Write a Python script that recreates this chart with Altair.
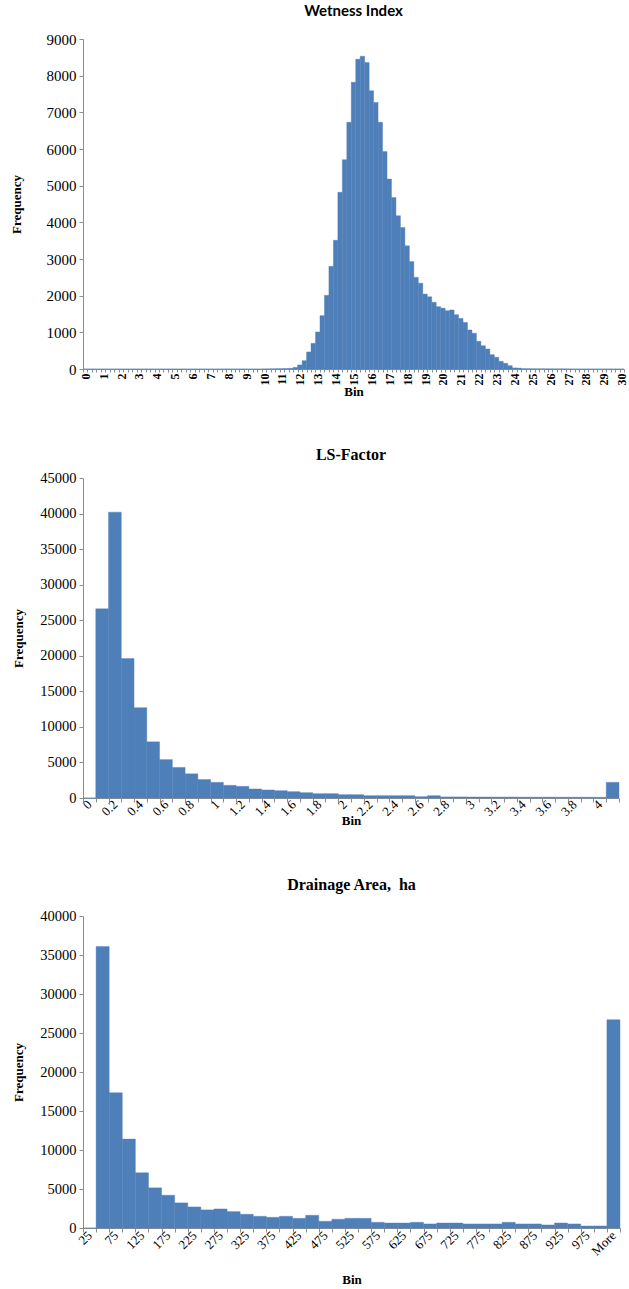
import altair as alt
import pandas as pd

BAR = "#4F7FB9"
SERIF = "Liberation Serif"

# ---------------- Wetness Index ----------------
wet_bins = [f"{i / 4:g}" for i in range(121)]  # 0, 0.25, ... 30
wet_freq = [
    0, 0, 0, 0, 0, 0, 0, 0, 0, 0,
    0, 0, 0, 0, 0, 0, 0, 0, 0, 0,
    0, 0, 0, 0, 0, 0, 0, 0, 0, 0,
    0, 0, 0, 0, 0, 0, 0, 0, 0, 0,
    2, 3, 5, 8, 10, 12, 18, 45,
    110, 227, 465, 700,
    1010, 1455, 2010, 2800,
    3510, 4820, 5710, 6730,
    7820, 8450, 8530, 8360,
    7590, 7270, 6730, 5930,
    5180, 4680, 4180, 3860,
    3360, 2930, 2500, 2340,
    2045, 1970, 1820, 1700,
    1660, 1590, 1610, 1480,
    1380, 1270, 1065, 975,
    755, 635, 545, 390,
    320, 210, 155, 90,
    30, 25, 10, 8,
    6, 5, 5, 4,
    4, 3, 3, 3,
    2, 0, 0, 0, 0, 0, 0, 0, 0, 0, 0, 0, 0,
]
wet_labels = [str(i) for i in range(31)]
wet_yticks = [0, 1000, 2000, 3000, 4000, 5000, 6000, 7000, 8000, 9000]

# ---------------- LS-Factor ----------------
ls_bins = ["0", "0.1", "0.2", "0.3", "0.4", "0.5", "0.6", "0.7", "0.8", "0.9",
           "1", "1.1", "1.2", "1.3", "1.4", "1.5", "1.6", "1.7", "1.8", "1.9",
           "2", "2.1", "2.2", "2.3", "2.4", "2.5", "2.6", "2.7", "2.8", "2.9",
           "3", "3.1", "3.2", "3.3", "3.4", "3.5", "3.6", "3.7", "3.8", "3.9",
           "4", "More"]
ls_freq = [0, 26600, 40200, 19600, 12700, 7900, 5400, 4300, 3400, 2600,
           2200, 1780, 1640, 1270, 1130, 1030, 890, 750, 610, 610,
           470, 470, 330, 330, 330, 330, 190, 330, 150, 150,
           140, 140, 130, 130, 120, 120, 120, 110, 110, 110,
           100, 2200]
ls_labels = ["0", "0.2", "0.4", "0.6", "0.8", "1", "1.2", "1.4", "1.6", "1.8",
             "2", "2.2", "2.4", "2.6", "2.8", "3", "3.2", "3.4", "3.6", "3.8", "4"]
ls_yticks = [0, 5000, 10000, 15000, 20000, 25000, 30000, 35000, 40000, 45000]

# ---------------- Drainage Area ----------------
da_bins = ["25", "50", "75", "100", "125", "150", "175", "200", "225", "250",
           "275", "300", "325", "350", "375", "400", "425", "450", "475", "500",
           "525", "550", "575", "600", "625", "650", "675", "700", "725", "750",
           "775", "800", "825", "850", "875", "900", "925", "950", "975", "1000",
           "More"]
da_freq = [0, 36100, 17350, 11400, 7080, 5150, 4200, 3220, 2700, 2320,
           2440, 2100, 1760, 1500, 1370, 1500, 1240, 1630, 860, 1120,
           1240, 1240, 730, 640, 640, 730, 520, 640, 640, 520,
           520, 520, 730, 520, 520, 390, 640, 520, 260, 260,
           26700]
da_labels = ["25", "75", "125", "175", "225", "275", "325", "375", "425", "475",
             "525", "575", "625", "675", "725", "775", "825", "875", "925", "975",
             "More"]
da_yticks = [0, 5000, 10000, 15000, 20000, 25000, 30000, 35000, 40000]


def label_expr(allowed):
    arr = "[" + ",".join("'" + s + "'" for s in allowed) + "]"
    return f"indexof({arr}, datum.value) >= 0 ? datum.value : ''"


def hist(bins, freq, labels, yticks, ymax, title, tfont, tsize, toffset,
         w, h, xangle, xbold, xsize, xtick, xlabpad, xtitlepad,
         ylabsize, ytitlepad):
    df = pd.DataFrame({"bin": bins, "freq": freq})
    if xangle == 270:
        xa = dict(labelAngle=270, labelAlign="right", labelBaseline="middle")
    else:
        xa = dict(labelAngle=315, labelAlign="right", labelBaseline="middle")
    return alt.Chart(df).mark_bar(color=BAR, stroke=BAR, strokeWidth=0.4).encode(
        x=alt.X("bin:O", sort=bins,
                scale=alt.Scale(paddingInner=0, paddingOuter=0),
                axis=alt.Axis(title="Bin", labelExpr=label_expr(labels),
                              tickBand="extent", labelOverlap=False,
                              labelFont=SERIF, labelFontSize=xsize,
                              labelFontWeight="bold" if xbold else "normal",
                              labelColor="black", labelPadding=xlabpad,
                              tickSize=xtick, tickColor="#8c8c8c",
                              domainColor="#8c8c8c",
                              titleFont=SERIF, titleFontSize=13,
                              titleFontWeight="bold", titleColor="black",
                              titlePadding=xtitlepad, **xa)),
        y=alt.Y("freq:Q", scale=alt.Scale(domain=[0, ymax], nice=False),
                axis=alt.Axis(title="Frequency", values=yticks, grid=False,
                              format="d",
                              labelFont=SERIF, labelFontSize=ylabsize,
                              labelColor="black", labelPadding=3,
                              tickSize=4, tickColor="#8c8c8c",
                              domainColor="#8c8c8c",
                              titleFont=SERIF, titleFontSize=13,
                              titleFontWeight="bold", titleColor="black",
                              titlePadding=ytitlepad)),
    ).properties(
        width=w, height=h,
        title=alt.TitleParams(title, font=tfont, fontSize=tsize,
                              fontWeight="bold", color="black",
                              offset=toffset, anchor="middle"),
    )


c1 = hist(wet_bins, wet_freq, wet_labels, wet_yticks, 9000, "Wetness Index",
          "Lato", 15, 13, 541, 330, 270, True, 12, 3, 1, 0, 15, 23)
c2 = hist(ls_bins, ls_freq, ls_labels, ls_yticks, 45000, "LS-Factor",
          SERIF, 16, 7, 536, 320, 315, False, 13, 4, 0, -4, 14.5, 14)
c3 = hist(da_bins, da_freq, da_labels, da_yticks, 40000, "Drainage Area,\u00a0 ha",
          SERIF, 16, 15, 537, 312, 315, False, 13, 4, 1, 16, 14.5, 14)

chart = alt.concat(c1, c2, c3, columns=1, spacing=49).properties(
    padding={"left": 10, "top": 4, "right": 0, "bottom": 0}
).configure_view(stroke=None)

chart.save("out.html", embed_options={"renderer": "svg", "actions": False})
